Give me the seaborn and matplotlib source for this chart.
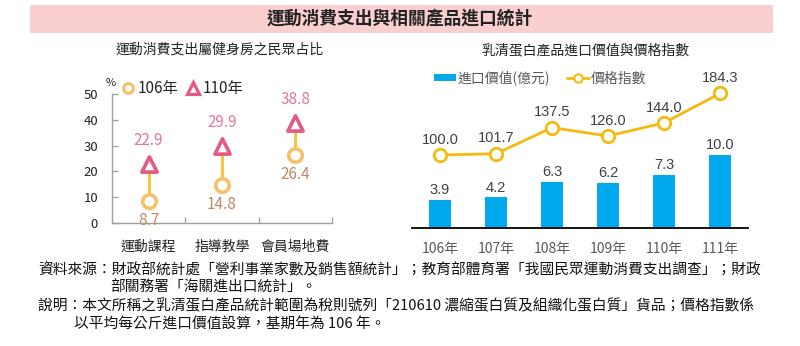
import matplotlib
matplotlib.use("Agg")
import matplotlib.pyplot as plt
import seaborn as sns
import numpy as np
import pandas as pd
from matplotlib.patches import Rectangle
from matplotlib.lines import Line2D

# ---- data ----
categories = ['運動課程', '指導教學', '會員場地費']
share_106 = [8.7, 14.8, 26.4]
share_110 = [22.9, 29.9, 38.8]
left_yticks = [0, 10, 20, 30, 40, 50]

years = ['106年', '107年', '108年', '109年', '110年', '111年']
import_value = [3.9, 4.2, 6.3, 6.2, 7.3, 10.0]
price_index = [100.0, 101.7, 137.5, 126.0, 144.0, 184.3]

title = '運動消費支出與相關產品進口統計'
left_title = '運動消費支出屬健身房之民眾占比'
right_title = '乳清蛋白產品進口價值與價格指數'
note1a = '資料來源：財政部統計處「營利事業家數及銷售額統計」；教育部體育署「我國民眾運動消費支出調查」；財政'
note1b = '部關務署「海關進出口統計」。'
note2a = '說明：本文所稱之乳清蛋白產品統計範圍為稅則號列「210610 濃縮蛋白質及組織化蛋白質」貨品；價格指數係'
note2b = '以平均每公斤進口價值設算，基期年為 106 年。'

sns.set_theme(style='white')
FONT = ['Noto Sans CJK TC', 'DejaVu Sans']
plt.rcParams['font.family'] = FONT

W, H = 800, 346
fig = plt.figure(figsize=(W / 100, H / 100), dpi=100)

def fx(px):
    return px / W

def fy(py):
    return 1 - py / H

# ---- banner ----
fig.patches.append(Rectangle((fx(30), fy(33)), fx(773) - fx(30), fy(5) - fy(33),
                             transform=fig.transFigure, facecolor='#F9CFD0', edgecolor='none'))
fig.text(fx(400), fy(19), title, ha='center', va='center', fontsize=12.8,
         fontweight='bold', color='#222222')

# ---- left chart ----
C_CIRC = '#F5C26B'
C_TRI = '#E35A82'
C_LINK = '#F5C135'
C_LAB_TRI = '#E8739A'
C_LAB_CIRC = '#C08868'

axL = fig.add_axes([fx(112), fy(223), fx(332) - fx(112), fy(94) - fy(223)])
xpos = np.arange(len(categories))
axL.vlines(xpos, share_106, share_110, color=C_LINK, linewidth=2, zorder=1)
dfL = pd.DataFrame({'x': xpos, 'a': share_106, 'b': share_110})
sns.scatterplot(data=dfL, x='x', y='a', ax=axL, marker='o', s=95, facecolor='white',
                edgecolor=C_CIRC, linewidth=2.6, zorder=3, legend=False)
sns.scatterplot(data=dfL, x='x', y='b', ax=axL, marker='^', s=120, facecolor='white',
                edgecolor=C_TRI, linewidth=2.6, zorder=3, legend=False)
for x, a, b in zip(xpos, share_106, share_110):
    axL.annotate(f'{b:.1f}', (x, b), xytext=(0, 11), textcoords='offset points',
                 ha='center', va='bottom', fontsize=11, color=C_LAB_TRI)
    axL.annotate(f'{a:.1f}', (x, a), xytext=(0, -8), textcoords='offset points',
                 ha='center', va='top', fontsize=11, color=C_LAB_CIRC)
axL.set_xlim(-0.5, 2.5)
axL.set_ylim(0, 50)
axL.set_yticks(left_yticks)
axL.set_yticklabels([str(v) for v in left_yticks], fontsize=9.5, color='#222222')
axL.set_xticks([0.5, 1.5, 2.5], minor=False)
axL.set_xticklabels([])
axL.set_xticks(xpos, minor=True)
axL.set_xticklabels(categories, minor=True, fontsize=10, color='#222222')
axL.tick_params(axis='x', which='major', direction='in', length=4, color='#A0A0A0', width=1)
axL.tick_params(axis='x', which='minor', length=0, pad=12)
axL.tick_params(axis='y', direction='in', length=4, color='#A0A0A0', width=1, pad=10)
axL.yaxis.set_ticks_position('left')
axL.xaxis.set_ticks_position('bottom')
for s in ['top', 'right']:
    axL.spines[s].set_visible(False)
for s in ['left', 'bottom']:
    axL.spines[s].set_color('#A0A0A0')
    axL.spines[s].set_linewidth(1)
axL.set_xlabel('')
axL.set_ylabel('')

fig.text(fx(220), fy(50), left_title, ha='center', va='center', fontsize=10, color='#222222')
fig.text(fx(111), fy(83), '%', ha='center', va='center', fontsize=8, color='#222222')
# legend for left
hL = [Line2D([], [], marker='o', linestyle='none', markersize=7, markerfacecolor='white',
             markeredgecolor=C_CIRC, markeredgewidth=2.3),
      Line2D([], [], marker='^', linestyle='none', markersize=8, markerfacecolor='white',
             markeredgecolor=C_TRI, markeredgewidth=2.3)]
fig.legend(hL, ['106年', '110年'], loc='center left', bbox_to_anchor=(fx(122), fy(89)),
           ncol=2, frameon=False, fontsize=11, handlelength=0.8, handletextpad=0.2,
           columnspacing=0.6, borderpad=0, borderaxespad=0)

# ---- right chart ----
C_BAR = '#00A9EC'
C_LINE = '#F5B90F'
axR = fig.add_axes([fx(412), fy(228), fx(748) - fx(412), fy(82) - fy(228)])
dfR = pd.DataFrame({'year': years, 'value': import_value, 'index': price_index,
                    'pos': np.arange(len(years))})
sns.barplot(data=dfR, x='year', y='value', ax=axR, color=C_BAR, width=0.41,
            saturation=1, edgecolor='none')
axR.set_ylim(0, 20)
axR.set_xlim(-0.5, 5.5)
for p, v in zip(dfR['pos'], import_value):
    axR.annotate(f'{v:.1f}', (p, v), xytext=(0, 2), textcoords='offset points',
                 ha='center', va='bottom', fontsize=10.5, color='#404040', family='Liberation Sans')
axR2 = axR.twinx()
sns.lineplot(data=dfR, x='pos', y='index', ax=axR2, color=C_LINE, linewidth=2,
             marker='o', markersize=9, markerfacecolor='white', markeredgecolor=C_LINE,
             markeredgewidth=2)
axR2.set_ylim(0, 200)
axR2.set_xlim(-0.5, 5.5)
for p, v in zip(dfR['pos'], price_index):
    axR2.annotate(f'{v:.1f}', (p, v), xytext=(0, 6), textcoords='offset points',
                  ha='center', va='bottom', fontsize=10.5, color='#404040', family='Liberation Sans')
for a in (axR, axR2):
    for s in ['top', 'right', 'left']:
        a.spines[s].set_visible(False)
    a.set_yticks([])
    a.set_ylabel('')
    a.set_xlabel('')
axR2.spines['bottom'].set_visible(False)
axR.spines['bottom'].set_color('#000000')
axR.spines['bottom'].set_linewidth(1.3)
axR.tick_params(axis='x', length=0, pad=10, labelsize=10, labelcolor='#595959')

fig.text(fx(585), fy(50), right_title, ha='center', va='center', fontsize=10, color='#222222')
hR = [Rectangle((0, 0), 1, 1, facecolor=C_BAR, edgecolor='none'),
      Line2D([], [], color=C_LINE, linewidth=2, marker='o', markersize=6,
             markerfacecolor='white', markeredgecolor=C_LINE, markeredgewidth=1.5)]
fig.legend(hR, ['進口價值(億元)', '價格指數'], loc='center left',
           bbox_to_anchor=(fx(434), fy(78)), ncol=2, frameon=False, fontsize=10,
           handlelength=1.6, handleheight=0.5, handletextpad=0.1, columnspacing=1.2,
           borderpad=0, borderaxespad=0, labelcolor='#595959')

# ---- notes ----
nf = dict(fontsize=10.6, color='#111111', va='center', ha='left')
fig.text(fx(38), fy(270), note1a, **nf)
fig.text(fx(110), fy(288), note1b, **nf)
fig.text(fx(38), fy(306), note2a, **nf)
fig.text(fx(74), fy(325), note2b, **nf)

fig.savefig('out.png', dpi=100)
